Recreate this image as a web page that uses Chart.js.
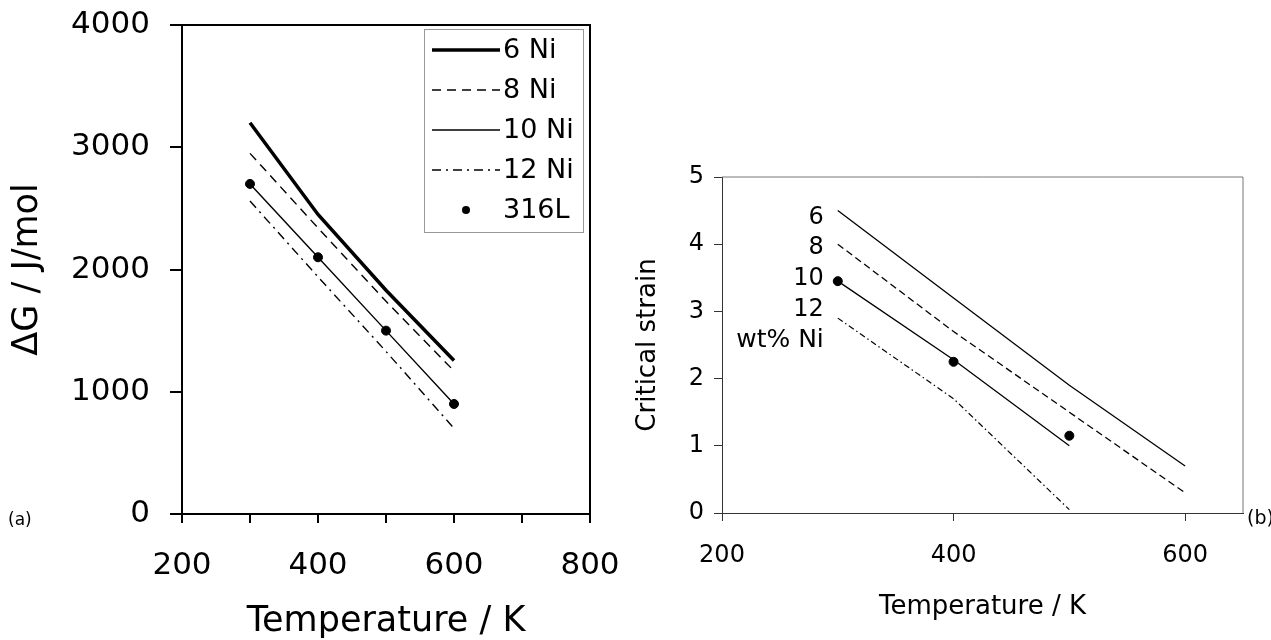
<!DOCTYPE html>
<html>
<head>
<meta charset="utf-8">
<script src="https://cdn.jsdelivr.net/npm/chart.js@4.4.1/dist/chart.umd.min.js"></script>
<style>
body { margin: 0; background: #fff; width: 1271px; height: 640px; overflow: hidden; position: relative; font-family: "DejaVu Sans", Verdana, sans-serif; }
canvas { position: absolute; top: 0; }
#chartA { left: 0; }
#chartB { left: 620px; }
.tag { position: absolute; color: #000; line-height: 1; }
</style>
</head>
<body>
<canvas id="chartA" width="620" height="640"></canvas>
<canvas id="chartB" width="651" height="640"></canvas>
<div class="tag" style="left:8px; top:511px; font-size:17px;">(a)</div>
<div class="tag" style="left:1247px; top:508px; font-size:19px;">(b)</div>
<script>
// (a) driving force vs temperature
const tempsA = [300, 400, 500, 600];
const dG6Ni = [3200, 2450, 1830, 1255];
const dG8Ni = [2950, 2340, 1740, 1170];
const dG10Ni = [2700, 2100, 1500, 900];
const dG12Ni = [2560, 1940, 1330, 700];
const dG316L = [2700, 2100, 1500, 900];

// (b) critical strain vs temperature
const tempsB = [300, 400, 500, 600];
const tempsB3 = [300, 400, 500];
const strain6 = [4.5, 3.2, 1.9, 0.7];
const strain8 = [4.0, 2.7, 1.5, 0.3];
const strain10 = [3.45, 2.28, 1.0];
const strain12 = [2.9, 1.7, 0.05];
const strain316L = [3.45, 2.25, 1.15];
const curveLabels = ['6', '8', '10', '12', 'wt% Ni'];
const curveLabelY = [4.4, 3.94, 3.49, 3.03, 2.57];

const FONT = '"DejaVu Sans", Verdana, sans-serif';
Chart.defaults.font.family = FONT;
Chart.defaults.color = '#000';

function pts(xs, ys) {
    return ys.map((y, i) => ({ x: xs[i], y: y }));
}

function lineSet(label, xs, ys, width, dash) {
    return {
        label: label,
        data: pts(xs, ys),
        borderColor: '#000',
        borderWidth: width,
        borderDash: dash,
        pointRadius: 0,
        fill: false,
        tension: 0
    };
}

function dotSet(label, xs, ys) {
    return {
        label: label,
        data: pts(xs, ys),
        showLine: false,
        pointRadius: 4.5,
        pointBackgroundColor: '#000',
        pointBorderColor: '#000',
        borderColor: '#000',
        backgroundColor: '#000'
    };
}

// keep the axis boxes at a fixed size so the plot area lands where it should
function fixSize(prop, size) {
    return function (scale) {
        scale[prop] = size;
        scale.paddingLeft = 0;
        scale.paddingRight = 0;
        scale.paddingTop = 0;
        scale.paddingBottom = 0;
    };
}

const framePlugin = {
    id: 'frame',
    afterDraw(chart, args, opts) {
        const { ctx, chartArea: a } = chart;
        ctx.save();
        ctx.strokeStyle = opts.color;
        ctx.lineWidth = opts.width;
        ctx.beginPath();
        ctx.moveTo(a.left, a.top);
        ctx.lineTo(a.right, a.top);
        ctx.lineTo(a.right, a.bottom);
        ctx.stroke();
        ctx.restore();
    }
};

const boxLegend = {
    id: 'boxLegend',
    afterDraw(chart) {
        const { ctx, chartArea: a } = chart;
        const sets = chart.data.datasets;
        const w = 159, rowH = 40;
        const right = a.right - 7, top = a.top + 4;
        const left = right - w;
        const h = rowH * sets.length + 3;
        ctx.save();
        ctx.fillStyle = '#fff';
        ctx.fillRect(left, top, w, h);
        ctx.strokeStyle = '#999';
        ctx.lineWidth = 1;
        ctx.strokeRect(left + 0.5, top + 0.5, w, h);
        sets.forEach((ds, i) => {
            const y = top + 21 + i * rowH;
            const x0 = left + 8, x1 = left + 76;
            if (ds.showLine === false) {
                ctx.fillStyle = '#000';
                ctx.beginPath();
                ctx.arc((x0 + x1) / 2, y, ds.pointRadius - 0.5, 0, Math.PI * 2);
                ctx.fill();
            } else {
                ctx.strokeStyle = ds.borderColor;
                ctx.lineWidth = ds.borderWidth;
                ctx.setLineDash(ds.borderDash || []);
                ctx.beginPath();
                ctx.moveTo(x0, y);
                ctx.lineTo(x1, y);
                ctx.stroke();
                ctx.setLineDash([]);
            }
            ctx.fillStyle = '#000';
            ctx.font = '27px ' + FONT;
            ctx.textAlign = 'left';
            ctx.textBaseline = 'middle';
            ctx.fillText(ds.label, x1 + 3, y + 1);
        });
        ctx.restore();
    }
};

const curveTags = {
    id: 'curveTags',
    afterDatasetsDraw(chart) {
        const { ctx, scales } = chart;
        const px = scales.x.getPixelForValue(tempsB[0]) - 14;
        ctx.save();
        ctx.fillStyle = '#000';
        ctx.textAlign = 'right';
        ctx.textBaseline = 'middle';
        curveLabels.forEach((t, i) => {
            ctx.font = (i === curveLabels.length - 1 ? '25px ' : '24px ') + FONT;
            ctx.fillText(t, px, scales.y.getPixelForValue(curveLabelY[i]));
        });
        ctx.restore();
    }
};

function initChartA() {
    const ctx = document.getElementById('chartA').getContext('2d');
    new Chart(ctx, {
        type: 'line',
        data: {
            datasets: [
                lineSet('6 Ni', tempsA, dG6Ni, 3.5, []),
                lineSet('8 Ni', tempsA, dG8Ni, 1.4, [9, 6]),
                lineSet('10 Ni', tempsA, dG10Ni, 1.4, []),
                lineSet('12 Ni', tempsA, dG12Ni, 1.4, [9, 5, 2, 5]),
                dotSet('316L', tempsA, dG316L)
            ]
        },
        options: {
            responsive: false,
            animation: false,
            layout: { padding: { top: 25, right: 30, left: 0, bottom: 0 } },
            plugins: {
                legend: { display: false },
                tooltip: { enabled: false },
                frame: { color: '#000', width: 2 }
            },
            scales: {
                x: {
                    type: 'linear',
                    min: 200,
                    max: 800,
                    afterFit: fixSize('height', 126),
                    border: { color: '#000', width: 2 },
                    grid: { drawOnChartArea: false, tickLength: 9, color: '#000', lineWidth: 2 },
                    ticks: {
                        stepSize: 100,
                        autoSkip: false,
                        maxRotation: 0,
                        padding: 24,
                        font: { size: 31 },
                        callback: v => (v % 200 === 0 ? String(v) : '')
                    },
                    title: {
                        display: true,
                        text: 'Temperature / K',
                        font: { size: 35, lineHeight: 1 },
                        padding: { top: 0, bottom: 1 }
                    }
                },
                y: {
                    min: 0,
                    max: 4000,
                    afterFit: fixSize('width', 182),
                    border: { color: '#000', width: 2 },
                    grid: { drawOnChartArea: false, tickLength: 12, color: '#000', lineWidth: 2 },
                    ticks: {
                        stepSize: 1000,
                        padding: 20,
                        font: { size: 31 },
                        callback: v => String(v)
                    },
                    title: {
                        display: true,
                        text: 'ΔG / J/mol',
                        font: { size: 35, lineHeight: 1 },
                        padding: { top: 10, bottom: 0 }
                    }
                }
            }
        },
        plugins: [framePlugin, boxLegend]
    });
}

function initChartB() {
    const ctx = document.getElementById('chartB').getContext('2d');
    new Chart(ctx, {
        type: 'line',
        data: {
            datasets: [
                lineSet('6', tempsB, strain6, 1.3, []),
                lineSet('8', tempsB, strain8, 1.3, [7, 4]),
                lineSet('10', tempsB3, strain10, 1.3, []),
                lineSet('12', tempsB3, strain12, 1.2, [6, 3, 1.5, 3]),
                dotSet('316L', tempsB3, strain316L)
            ]
        },
        options: {
            responsive: false,
            animation: false,
            layout: { padding: { top: 177, right: 28, left: 0, bottom: 0 } },
            plugins: {
                legend: { display: false },
                tooltip: { enabled: false },
                frame: { color: '#777', width: 1 }
            },
            scales: {
                x: {
                    type: 'linear',
                    min: 200,
                    max: 650,
                    afterFit: fixSize('height', 127),
                    border: { color: '#333', width: 1 },
                    grid: { drawOnChartArea: false, tickLength: 8, color: '#333', lineWidth: 1 },
                    ticks: {
                        stepSize: 200,
                        includeBounds: false,
                        autoSkip: false,
                        maxRotation: 0,
                        padding: 20,
                        font: { size: 24 },
                        callback: v => String(v)
                    },
                    title: {
                        display: true,
                        text: 'Temperature / K',
                        font: { size: 26, lineHeight: 1 },
                        padding: { top: 0, bottom: 20 }
                    }
                },
                y: {
                    min: 0,
                    max: 5,
                    afterFit: fixSize('width', 102),
                    border: { color: '#333', width: 1 },
                    grid: { drawOnChartArea: false, tickLength: 8, color: '#333', lineWidth: 1 },
                    ticks: {
                        stepSize: 1,
                        padding: 10,
                        font: { size: 24 },
                        callback: v => String(v)
                    },
                    title: {
                        display: true,
                        text: 'Critical strain',
                        font: { size: 26, lineHeight: 1 },
                        padding: { top: 15, bottom: 0 }
                    }
                }
            }
        },
        plugins: [framePlugin, curveTags]
    });
}

window.addEventListener('load', () => {
    initChartA();
    initChartB();
});
</script>
</body>
</html>
